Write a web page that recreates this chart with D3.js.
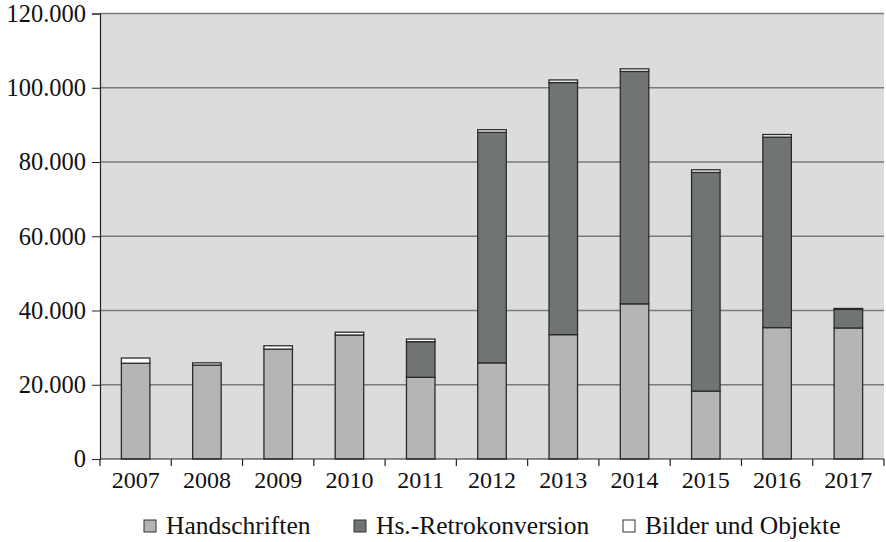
<!DOCTYPE html>
<html lang="de">
<head>
<meta charset="UTF-8">
<title>Bestand</title>
<script src="https://d3js.org/d3.v7.min.js"></script>
<style>
  body { margin: 0; background: #fff; }
  text { font-family: "Liberation Serif", "DejaVu Serif", serif; fill: #111; }
</style>
</head>
<body>
<script>
  const years = ['2007', '2008', '2009', '2010', '2011', '2012', '2013', '2014', '2015', '2016', '2017'];
  const handschriften = [25800, 25300, 29600, 33400, 22000, 25900, 33500, 41800, 18300, 35400, 35300];
  const retrokonversion = [0, 0, 0, 0, 9600, 62100, 67900, 62600, 58900, 51300, 5000];
  const bilder = [1400, 600, 900, 750, 700, 700, 700, 700, 700, 700, 250];
  const seriesNames = ['Handschriften', 'Hs.-Retrokonversion', 'Bilder und Objekte'];
  const yTicks = [0, 20000, 40000, 60000, 80000, 100000, 120000];

  const width = 886, height = 542;
  const margin = { top: 13.5, right: 2, bottom: 83, left: 100 };
  const colours = ['#b4b5b4', '#717474', '#ffffff'];

  const rows = years.map((y, i) => ({ year: y, h: handschriften[i], r: retrokonversion[i], b: bilder[i] }));
  const stack = d3.stack().keys(['h', 'r', 'b'])(rows);

  const svg = d3.select('body').append('svg').attr('width', width).attr('height', height);

  const x = d3.scaleBand().domain(years)
    .range([margin.left, width - margin.right]).paddingInner(0.6).paddingOuter(0.3);
  const y = d3.scaleLinear().domain([0, 120000]).range([height - margin.bottom, margin.top]);

  // plot background
  svg.append('rect')
    .attr('x', margin.left).attr('y', margin.top)
    .attr('width', width - margin.right - margin.left)
    .attr('height', y(0) - margin.top)
    .attr('fill', '#dcdcdc');

  // gridlines
  svg.append('g').selectAll('line').data(yTicks.slice(1)).join('line')
    .attr('x1', margin.left).attr('x2', width - margin.right)
    .attr('y1', d => y(d)).attr('y2', d => y(d))
    .attr('stroke', '#7a7a7a').attr('stroke-width', 1.5);

  // bars
  svg.append('g').selectAll('g').data(stack).join('g')
    .attr('fill', (d, i) => colours[i])
    .selectAll('rect').data(d => d.filter(s => s[1] > s[0])).join('rect')
    .attr('x', d => x(d.data.year))
    .attr('width', x.bandwidth())
    .attr('y', d => y(d[1]))
    .attr('height', d => y(d[0]) - y(d[1]))
    .attr('stroke', '#2b2b2b').attr('stroke-width', 1.3);

  // y axis
  const fmt = d => d3.format(',')(d).replace(/,/g, '.');
  const yAxis = svg.append('g')
    .attr('transform', `translate(${margin.left},0)`)
    .call(d3.axisLeft(y).tickValues(yTicks).tickFormat(fmt).tickSize(8).tickPadding(6));
  yAxis.select('.domain').attr('stroke', '#222').attr('stroke-width', 1.2);
  yAxis.selectAll('.tick line').attr('stroke', '#222');
  yAxis.selectAll('text').attr('font-size', 24.5).attr('fill', '#111')
    .attr('font-family', '"Liberation Serif", serif');

  // x axis with ticks between categories
  const xAxis = svg.append('g').attr('transform', `translate(0,${y(0)})`);
  xAxis.append('line')
    .attr('x1', margin.left).attr('x2', width - margin.right)
    .attr('stroke', '#222').attr('stroke-width', 1.2);
  const bounds = d3.range(years.length + 1).map(i => margin.left + i * (width - margin.right - margin.left) / years.length);
  xAxis.selectAll('.xt').data(bounds).join('line').attr('class', 'xt')
    .attr('x1', d => d).attr('x2', d => d).attr('y1', 0).attr('y2', 7)
    .attr('stroke', '#222').attr('stroke-width', 1.2);
  xAxis.selectAll('.xl').data(years).join('text').attr('class', 'xl')
    .attr('x', d => x(d) + x.bandwidth() / 2).attr('y', 29)
    .attr('text-anchor', 'middle').attr('font-size', 24)
    .text(d => d);

  // legend
  const legendX = [144, 354, 623];
  const legend = svg.append('g').selectAll('g').data(seriesNames).join('g')
    .attr('transform', (d, i) => `translate(${legendX[i]},520)`);
  legend.append('rect').attr('width', 12).attr('height', 12)
    .attr('fill', (d, i) => colours[i]).attr('stroke', '#333').attr('stroke-width', 1);
  legend.append('text').attr('x', 22).attr('y', 14).attr('font-size', 25.5).text(d => d);
</script>
</body>
</html>
